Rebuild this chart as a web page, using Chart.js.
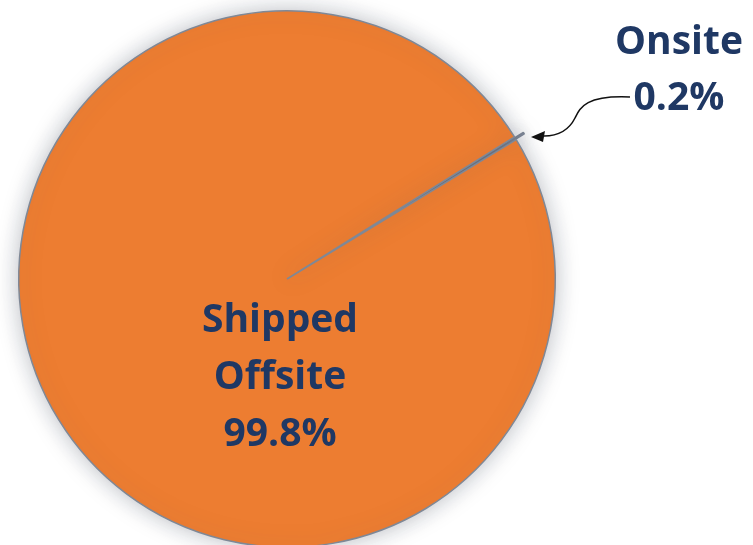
<!DOCTYPE html>
<html>
<head>
<meta charset="utf-8">
<script src="https://cdn.jsdelivr.net/npm/chart.js@4/dist/chart.umd.min.js"></script>
<style>
  html, body { margin: 0; padding: 0; background: #fff; overflow: hidden; }
  #wrap { width: 753px; height: 545px; overflow: hidden; }
</style>
</head>
<body>
<div id="wrap"><canvas id="myChart" width="753" height="560"></canvas></div>
<script>
const labels = ['Onsite', 'Shipped Offsite'];
const values = [0.2, 99.8];
const sliceLabels = [['Onsite', '0.2%'], ['Shipped', 'Offsite', '99.8%']];

const navy = '#1f3864';

const shadowPlugin = {
  id: 'shadow',
  beforeDatasetsDraw: (chart) => {
    const ctx = chart.ctx;
    ctx.save();
    ctx.shadowColor = 'rgba(60,70,90,0.35)';
    ctx.shadowBlur = 22;
  },
  afterDatasetsDraw: (chart) => {
    chart.ctx.restore();
  },
};

const labelPlugin = {
  id: 'pieLabels',
  afterDraw: (chart) => {
    const ctx = chart.ctx;
    ctx.save();
    ctx.fillStyle = navy;
    ctx.textAlign = 'center';
    ctx.textBaseline = 'middle';
    ctx.font = 'bold 39px "Open Sans"';
    sliceLabels[1].forEach((t, i) => ctx.fillText(t, 280, 321 + i * 57));
    sliceLabels[0].forEach((t, i) => ctx.fillText(t, 679, 43 + i * 56));

    // curved arrow from the label to the slice
    ctx.strokeStyle = '#111';
    ctx.lineWidth = 1.5;
    ctx.beginPath();
    ctx.moveTo(630, 97);
    ctx.bezierCurveTo(585, 95, 580, 108, 575, 118);
    ctx.bezierCurveTo(568, 132, 555, 136, 544, 136);
    ctx.stroke();
    ctx.fillStyle = '#111';
    ctx.beginPath();
    ctx.moveTo(531, 137);
    ctx.lineTo(545, 131);
    ctx.lineTo(543, 142);
    ctx.closePath();
    ctx.fill();
    ctx.restore();
  },
};

new Chart(document.getElementById('myChart'), {
  type: 'pie',
  data: {
    labels,
    datasets: [
      {
        data: values,
        backgroundColor: ['#8492a6', '#ed7d31'],
        borderColor: ['#7f8896', '#7f8896'],
        borderWidth: 1.5,
        offset: [20, 0],
      },
    ],
  },
  options: {
    responsive: false,
    animation: false,
    rotation: 58,
    layout: {
      padding: { top: 0, bottom: 2, left: 8, right: 187 },
    },
    plugins: {
      legend: { display: false },
      tooltip: { enabled: false },
    },
  },
  plugins: [shadowPlugin, labelPlugin],
});
</script>
</body>
</html>
